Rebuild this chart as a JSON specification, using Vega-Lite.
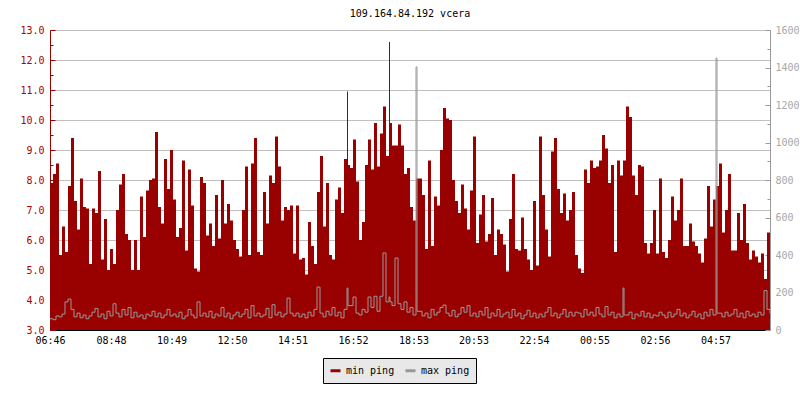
{
  "$schema": "https://vega.github.io/schema/vega-lite/v6.json",
  "width": 720,
  "height": 300,
  "autosize": {"type": "none"},
  "padding": {"left": 50, "top": 30, "right": 30, "bottom": 70},
  "background": "#ffffff",
  "title": {"text": "109.164.84.192 vcera", "font": "DejaVu Sans Mono", "fontSize": 10, "fontWeight": "normal", "color": "#000000", "anchor": "middle", "offset": 6},
  "config": {"view": {"stroke": null}},
  "data": {"values": [
    {"m":0,"min":7.9,"max":60},{"m":6,"min":8.2,"max":55},{"m":12,"min":8.55,"max":75},{"m":18,"min":5.5,"max":70},{"m":24,"min":6.45,"max":85},{"m":30,"min":5.6,"max":150},{"m":36,"min":7.8,"max":165},{"m":42,"min":9.4,"max":110},{"m":48,"min":7.3,"max":70},{"m":54,"min":6.35,"max":90},{"m":60,"min":8.05,"max":65},{"m":66,"min":7.1,"max":80},{"m":72,"min":7.05,"max":60},{"m":78,"min":5.2,"max":75},{"m":84,"min":7.05,"max":95},{"m":90,"min":6.9,"max":115},{"m":96,"min":8.3,"max":70},{"m":102,"min":5.35,"max":85},{"m":108,"min":6.7,"max":60},{"m":114,"min":5.0,"max":100},{"m":120,"min":5.7,"max":75},{"m":126,"min":5.2,"max":140},{"m":132,"min":7.0,"max":90},{"m":138,"min":7.85,"max":70},{"m":144,"min":8.2,"max":110},{"m":150,"min":6.2,"max":80},{"m":156,"min":6.0,"max":120},{"m":162,"min":5.0,"max":65},{"m":168,"min":6.0,"max":95},{"m":174,"min":5.0,"max":70},{"m":180,"min":7.45,"max":80},{"m":186,"min":6.1,"max":60},{"m":192,"min":7.65,"max":85},{"m":198,"min":8.0,"max":75},{"m":204,"min":8.05,"max":100},{"m":210,"min":9.6,"max":70},{"m":216,"min":7.1,"max":90},{"m":222,"min":6.55,"max":65},{"m":228,"min":8.7,"max":80},{"m":234,"min":7.7,"max":110},{"m":240,"min":9.0,"max":75},
    {"m":246,"min":7.35,"max":85},{"m":252,"min":6.1,"max":70},{"m":258,"min":6.4,"max":95},{"m":264,"min":8.65,"max":60},{"m":270,"min":5.65,"max":75},{"m":276,"min":8.35,"max":110},{"m":282,"min":7.15,"max":80},{"m":288,"min":5.05,"max":65},{"m":294,"min":4.95,"max":150},{"m":300,"min":8.1,"max":75},{"m":306,"min":7.9,"max":90},{"m":312,"min":6.15,"max":70},{"m":318,"min":6.55,"max":100},{"m":324,"min":5.8,"max":65},{"m":330,"min":7.5,"max":85},{"m":336,"min":6.05,"max":75},{"m":342,"min":8.0,"max":120},{"m":348,"min":6.55,"max":70},{"m":354,"min":7.2,"max":90},{"m":360,"min":6.65,"max":60},{"m":366,"min":6.0,"max":80},{"m":372,"min":5.7,"max":95},{"m":378,"min":5.45,"max":70},{"m":384,"min":7.0,"max":85},{"m":390,"min":8.45,"max":110},{"m":396,"min":5.5,"max":65},{"m":402,"min":8.55,"max":130},{"m":408,"min":9.4,"max":75},{"m":414,"min":5.6,"max":90},{"m":420,"min":5.5,"max":70},{"m":426,"min":7.6,"max":80},{"m":432,"min":6.55,"max":115},{"m":438,"min":8.15,"max":65},{"m":444,"min":7.9,"max":135},{"m":450,"min":9.45,"max":80},{"m":456,"min":8.45,"max":95},{"m":462,"min":6.65,"max":70},{"m":468,"min":7.1,"max":85},{"m":474,"min":7.0,"max":170},{"m":480,"min":7.15,"max":90},{"m":486,"min":5.55,"max":75},
    {"m":492,"min":7.15,"max":90},{"m":498,"min":5.35,"max":70},{"m":504,"min":5.4,"max":85},{"m":510,"min":4.85,"max":65},{"m":516,"min":6.6,"max":95},{"m":522,"min":5.8,"max":75},{"m":528,"min":5.2,"max":110},{"m":534,"min":7.6,"max":229},{"m":540,"min":8.8,"max":90},{"m":546,"min":6.45,"max":70},{"m":552,"min":7.9,"max":100},{"m":558,"min":5.5,"max":80},{"m":564,"min":5.35,"max":120},{"m":570,"min":7.35,"max":75},{"m":576,"min":7.75,"max":95},{"m":582,"min":6.9,"max":65},{"m":588,"min":8.7,"max":110},{"m":594,"min":10.95,"max":224},{"m":596,"min":8.5,"max":130},{"m":600,"min":8.4,"max":130},{"m":606,"min":9.35,"max":176},{"m":612,"min":7.95,"max":90},{"m":618,"min":6.0,"max":80},{"m":624,"min":6.6,"max":110},{"m":630,"min":8.5,"max":95},{"m":636,"min":9.35,"max":176},{"m":642,"min":8.35,"max":120},{"m":648,"min":9.9,"max":180},{"m":654,"min":8.45,"max":100},{"m":660,"min":9.55,"max":180},{"m":666,"min":10.45,"max":411},{"m":672,"min":8.8,"max":150},{"m":678,"min":12.6,"max":176},{"m":680,"min":9.9,"max":150},{"m":684,"min":9.15,"max":130},{"m":690,"min":9.15,"max":384},{"m":696,"min":9.85,"max":140},{"m":702,"min":9.15,"max":110},{"m":708,"min":8.2,"max":150},{"m":714,"min":8.4,"max":95},{"m":720,"min":7.1,"max":120},{"m":726,"min":6.65,"max":80},{"m":732,"min":8.05,"max":1403},{"m":734,"min":8.05,"max":100},
    {"m":738,"min":8.05,"max":100},{"m":744,"min":7.5,"max":75},{"m":750,"min":5.7,"max":90},{"m":756,"min":8.65,"max":65},{"m":762,"min":5.8,"max":110},{"m":768,"min":7.45,"max":80},{"m":774,"min":7.15,"max":95},{"m":780,"min":9.0,"max":120},{"m":786,"min":10.4,"max":133},{"m":792,"min":10.05,"max":90},{"m":798,"min":10.0,"max":75},{"m":804,"min":8.0,"max":105},{"m":810,"min":7.3,"max":70},{"m":816,"min":6.9,"max":85},{"m":822,"min":7.85,"max":120},{"m":828,"min":7.05,"max":95},{"m":834,"min":6.35,"max":130},{"m":840,"min":7.65,"max":75},{"m":846,"min":9.45,"max":90},{"m":852,"min":5.9,"max":70},{"m":858,"min":6.85,"max":100},{"m":864,"min":7.5,"max":80},{"m":870,"min":5.95,"max":120},{"m":876,"min":6.2,"max":65},{"m":882,"min":7.4,"max":90},{"m":888,"min":5.5,"max":75},{"m":894,"min":6.35,"max":110},{"m":900,"min":6.2,"max":70},{"m":906,"min":5.85,"max":85},{"m":912,"min":4.95,"max":95},{"m":918,"min":6.7,"max":65},{"m":924,"min":8.2,"max":110},{"m":930,"min":5.7,"max":75},{"m":936,"min":5.65,"max":90},{"m":942,"min":6.75,"max":60},{"m":948,"min":5.7,"max":80},{"m":954,"min":5.35,"max":105},{"m":960,"min":5.0,"max":70},{"m":966,"min":7.3,"max":90},{"m":972,"min":5.15,"max":65},{"m":978,"min":9.45,"max":85},
    {"m":984,"min":7.5,"max":70},{"m":990,"min":6.35,"max":95},{"m":996,"min":5.45,"max":120},{"m":1002,"min":8.95,"max":75},{"m":1008,"min":9.4,"max":90},{"m":1014,"min":7.7,"max":65},{"m":1020,"min":6.9,"max":85},{"m":1026,"min":7.55,"max":110},{"m":1032,"min":6.65,"max":70},{"m":1038,"min":7.0,"max":95},{"m":1044,"min":7.6,"max":75},{"m":1050,"min":5.5,"max":95},{"m":1056,"min":5.05,"max":90},{"m":1062,"min":4.9,"max":70},{"m":1068,"min":8.35,"max":110},{"m":1074,"min":7.9,"max":80},{"m":1080,"min":8.65,"max":95},{"m":1086,"min":8.4,"max":75},{"m":1092,"min":8.45,"max":120},{"m":1098,"min":8.65,"max":85},{"m":1104,"min":9.5,"max":70},{"m":1110,"min":9.05,"max":125},{"m":1116,"min":7.9,"max":80},{"m":1122,"min":8.5,"max":95},{"m":1128,"min":5.6,"max":65},{"m":1134,"min":8.65,"max":85},{"m":1140,"min":8.15,"max":70},{"m":1146,"min":8.65,"max":224},{"m":1148,"min":8.65,"max":80},{"m":1152,"min":10.45,"max":80},{"m":1158,"min":10.1,"max":95},{"m":1164,"min":8.15,"max":60},{"m":1170,"min":7.5,"max":85},{"m":1176,"min":8.5,"max":75},{"m":1182,"min":8.45,"max":100},{"m":1188,"min":5.9,"max":70},{"m":1194,"min":5.55,"max":90},{"m":1200,"min":5.9,"max":65},{"m":1206,"min":7.0,"max":80},{"m":1212,"min":5.55,"max":75},{"m":1218,"min":8.05,"max":95},
    {"m":1224,"min":5.6,"max":80},{"m":1230,"min":5.4,"max":65},{"m":1236,"min":6.0,"max":95},{"m":1242,"min":7.45,"max":70},{"m":1248,"min":6.65,"max":85},{"m":1254,"min":7.0,"max":110},{"m":1260,"min":8.05,"max":75},{"m":1266,"min":5.8,"max":90},{"m":1272,"min":5.8,"max":65},{"m":1278,"min":6.55,"max":80},{"m":1284,"min":5.95,"max":100},{"m":1290,"min":5.8,"max":70},{"m":1296,"min":5.55,"max":85},{"m":1302,"min":5.25,"max":60},{"m":1308,"min":6.05,"max":95},{"m":1314,"min":7.8,"max":75},{"m":1320,"min":6.45,"max":110},{"m":1326,"min":7.35,"max":80},{"m":1332,"min":7.8,"max":1450},{"m":1334,"min":7.8,"max":90},{"m":1338,"min":8.55,"max":90},{"m":1344,"min":6.25,"max":70},{"m":1350,"min":7.0,"max":95},{"m":1356,"min":8.2,"max":75},{"m":1362,"min":5.65,"max":85},{"m":1368,"min":5.65,"max":110},{"m":1374,"min":6.9,"max":70},{"m":1380,"min":6.0,"max":90},{"m":1386,"min":7.2,"max":65},{"m":1392,"min":5.9,"max":100},{"m":1398,"min":5.35,"max":75},{"m":1404,"min":5.65,"max":85},{"m":1410,"min":5.45,"max":70},{"m":1416,"min":5.25,"max":95},{"m":1422,"min":5.55,"max":80},{"m":1428,"min":4.7,"max":210},{"m":1434,"min":6.25,"max":110},{"m":1440,"min":5.85,"max":90}
  ]},
  "encoding": {
    "x": {"field": "m", "type": "quantitative",
      "scale": {"domain": [0, 1440], "nice": false, "zero": false},
      "axis": {"title": null, "grid": false,
        "values": [0, 122, 243, 364, 485, 606, 727, 847, 968, 1089, 1210, 1331],
        "labelExpr": "utcFormat((datum.value + 406) * 60000, '%H:%M')",
        "domainColor": "#000000", "tickColor": "#000000", "tickSize": -5,
        "labelFont": "DejaVu Sans Mono", "labelFontSize": 10, "labelColor": "#000000",
        "labelPadding": 10, "labelFlush": false, "labelOverlap": false}}
  },
  "layer": [
    {
      "mark": {"type": "area", "interpolate": "step-after", "color": "#990000", "clip": true},
      "encoding": {
        "y": {"field": "min", "type": "quantitative",
          "scale": {"domain": [3, 13], "nice": false, "zero": false},
          "axis": {"title": null, "orient": "left",
            "values": [3, 3.5, 4, 4.5, 5, 5.5, 6, 6.5, 7, 7.5, 8, 8.5, 9, 9.5, 10, 10.5, 11, 11.5, 12, 12.5, 13],
            "labelExpr": "datum.value % 1 === 0 ? format(datum.value, '.1f') : ''",
            "grid": true, "gridColor": "#c0c0c0",
            "gridOpacity": {"condition": {"test": "datum.value % 1 === 0", "value": 1}, "value": 0},
            "tickSize": {"condition": {"test": "datum.value % 1 === 0", "value": -5}, "value": -3},
            "domainColor": "#990000", "tickColor": "#990000",
            "labelColor": "#aa0000", "labelFont": "DejaVu Sans Mono", "labelFontSize": 10,
            "labelPadding": 11, "labelOverlap": false}},
        "y2": {"datum": 3},
        "color": {"datum": "min ping", "type": "nominal",
          "scale": {"domain": ["min ping", "max ping"], "range": ["#990000", "#999999"]},
          "legend": {"title": null, "orient": "none", "legendX": 273, "legendY": 328,
            "direction": "horizontal", "columns": 2,
            "symbolType": "stroke", "symbolStrokeWidth": 3, "symbolSize": 100,
            "labelFont": "DejaVu Sans Mono", "labelFontSize": 10, "labelColor": "#000000",
            "labelExpr": "datum.label == 'max ping' ? 'max ping\u00a0\u00a0\u00a0' : datum.label",
            "fillColor": "#e8e8e8", "strokeColor": "#000000", "padding": 6, "columnPadding": 4, "labelOffset": 4}}
      }
    },
    {
      "mark": {"type": "line", "interpolate": "step-after", "color": "#999999", "strokeWidth": 1, "clip": true},
      "encoding": {
        "y": {"field": "max", "type": "quantitative",
          "scale": {"domain": [0, 1600], "nice": false},
          "axis": {"title": null, "orient": "right", "grid": false,
            "values": [0, 100, 200, 300, 400, 500, 600, 700, 800, 900, 1000, 1100, 1200, 1300, 1400, 1500, 1600],
            "labelExpr": "datum.value % 200 === 0 ? format(datum.value, 'd') : ''",
            "tickSize": {"condition": {"test": "datum.value % 200 === 0", "value": -5}, "value": -3},
            "domainColor": "#999999", "tickColor": "#999999",
            "labelColor": "#a8a8a8", "labelFont": "DejaVu Sans Mono", "labelFontSize": 10,
            "labelPadding": 10, "labelOverlap": false}},
        "color": {"datum": "max ping", "type": "nominal"}
      }
    }
  ],
  "resolve": {"scale": {"y": "independent"}}
}
